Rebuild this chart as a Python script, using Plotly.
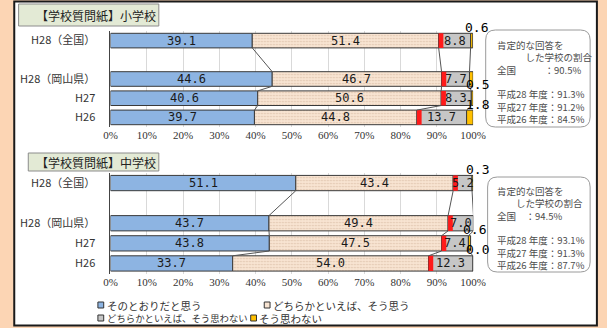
import numpy as np
import plotly.graph_objects as go

W, H = 607, 328

# ---------------- data ----------------
row_labels = ["H28（全国）", "", "H28（岡山県）", "H27", "H26"]
series_names = ["そのとおりだと思う", "どちらかといえば、そう思う",
                "どちらかといえば、そう思わない", "そう思わない"]

# 小学校 (None = spacer row)
elem_agree      = [39.1, None, 44.6, 40.6, 39.7]
elem_some_agree = [51.4, None, 46.7, 50.6, 44.8]
elem_some_dis   = [8.8,  None, 7.7,  8.3,  13.7]
elem_disagree   = [0.6,  None, 1.0,  0.5,  1.8]

# 中学校
mid_agree      = [51.1, None, 43.7, 43.8, 33.7]
mid_some_agree = [43.4, None, 49.4, 47.5, 54.0]
mid_some_dis   = [5.2,  None, 7.0,  7.4,  12.3]
mid_disagree   = [0.3,  None, 0.0,  0.6,  0.0]

x_ticks = [0, 10, 20, 30, 40, 50, 60, 70, 80, 90, 100]

titles = ["【学校質問紙】小学校", "【学校質問紙】中学校"]
box_years = ["平成28 年度", "平成27 年度", "平成26 年度"]

# ---------------- style ----------------
C_BLUE = "#8db4e2"
C_BEIGE = "#f8e4d2"
C_GRAY = "#c6c6c6"
C_YEL = "#ffc000"
C_RED = "#ff1a1a"
C_EDGE = "#3a3a3a"
RED_W = 1.3
BW = 0.76
JP = "Noto Sans CJK JP"
MONO = "DejaVu Sans Mono"
SERIF = "Liberation Serif, Times New Roman, serif"
SP = "\u3000"


def fx(x):
    return x / W


def fy(y):
    return 1 - y / H


fig = go.Figure()
shapes = []
annos = []

charts = [
    dict(vals=[elem_agree, elem_some_agree, elem_some_dis, elem_disagree],
         xa="x", ya="y"),
    dict(vals=[mid_agree, mid_some_agree, mid_some_dis, mid_disagree],
         xa="x2", ya="y2"),
]

for ci, ch in enumerate(charts):
    idx = [i for i, v in enumerate(ch["vals"][0]) if v is not None]
    mat = np.array([[ch["vals"][s][i] for s in range(4)] for i in idx], dtype=float)
    cum = np.cumsum(mat, axis=1)
    base = np.hstack([np.zeros((len(idx), 1)), cum[:, :-1]])
    colors = [C_BLUE, C_BEIGE, C_GRAY, C_YEL]
    for s in range(4):
        mk = dict(color=colors[s], line=dict(color=C_EDGE, width=1))
        if s == 1:
            mk["pattern"] = dict(shape=".", fgcolor="#c4a488", bgcolor=C_BEIGE,
                                 size=3, solidity=0.25)
        fig.add_trace(go.Bar(
            x=mat[:, s], y=idx, base=base[:, s], orientation="h", width=BW,
            marker=mk, name=series_names[s], showlegend=False,
            xaxis=ch["xa"], yaxis=ch["ya"], hoverinfo="skip"))
    # red marker at boundary of positive answers
    fig.add_trace(go.Bar(
        x=[RED_W] * len(idx), y=idx, base=cum[:, 1], orientation="h", width=BW,
        marker=dict(color=C_RED, line=dict(width=0)), showlegend=False,
        xaxis=ch["xa"], yaxis=ch["ya"], hoverinfo="skip"))
    # series lines
    for r in range(len(idx) - 1):
        for k in range(3):
            shapes.append(dict(type="line", xref=ch["xa"], yref=ch["ya"],
                               x0=cum[r, k], y0=idx[r] + BW / 2,
                               x1=cum[r + 1, k], y1=idx[r + 1] - BW / 2,
                               line=dict(color="#555555", width=1), layer="above"))
    # labels
    for r, i in enumerate(idx):
        for s in range(3):
            annos.append(dict(x=base[r, s] + mat[r, s] / 2, y=i, xref=ch["xa"], yref=ch["ya"],
                              text=f"{mat[r, s]:.1f}", showarrow=False,
                              xanchor="center", yanchor="middle",
                              font=dict(family=MONO, size=12, color="#1a1a1a")))
        annos.append(dict(x=cum[r, 3], y=i - BW / 2, xref=ch["xa"], yref=ch["ya"],
                          text=f"{mat[r, 3]:.1f}", showarrow=False, xshift=4, yshift=6,
                          xanchor="center", yanchor="middle",
                          font=dict(family=MONO, size=13, color="#000000")))

    # title box
    tx0 = 12 if ci == 0 else 22
    ty0, ty1 = (4, 26) if ci == 0 else (153, 171)
    shapes.append(dict(type="rect", xref="paper", yref="paper",
                       x0=fx(tx0), x1=fx(157), y0=fy(ty1), y1=fy(ty0),
                       fillcolor="#e3ead5", line=dict(color="#8c8c8c", width=1)))
    annos.append(dict(x=fx(28), y=fy((ty0 + ty1) / 2), xref="paper", yref="paper",
                      text=titles[ci], showarrow=False, xanchor="left", yanchor="middle",
                      font=dict(family=JP, size=12, color="#222222")))

    # right info box
    pos = cum[:, 1]
    bx0, by0, bx1, by1 = (495, 30, 603, 127) if ci == 0 else (497, 177, 603, 272)
    rr = 10
    path = (f"M {fx(bx0 + rr)},{fy(by0)} L {fx(bx1 - rr)},{fy(by0)} "
            f"Q {fx(bx1)},{fy(by0)} {fx(bx1)},{fy(by0 + rr)} "
            f"L {fx(bx1)},{fy(by1 - rr)} Q {fx(bx1)},{fy(by1)} {fx(bx1 - rr)},{fy(by1)} "
            f"L {fx(bx0 + rr)},{fy(by1)} Q {fx(bx0)},{fy(by1)} {fx(bx0)},{fy(by1 - rr)} "
            f"L {fx(bx0)},{fy(by0 + rr)} Q {fx(bx0)},{fy(by0)} {fx(bx0 + rr)},{fy(by0)} Z")
    shapes.append(dict(type="path", xref="paper", yref="paper", path=path,
                       fillcolor="white", line=dict(color="#9a9a9a", width=1)))
    ind = SP * 3 if ci == 0 else SP * 2
    gap = SP * 3 if ci == 0 else SP * 1
    lines = ["肯定的な回答を", ind + "した学校の割合", "全国" + gap + f"：{pos[0]:.1f}%", " "]
    lines += [f"{box_years[k]}：{pos[k + 1]:.1f}%" for k in range(3)]
    ytop = 36 if ci == 0 else 182
    annos.append(dict(x=fx(505), y=fy(ytop), xref="paper", yref="paper",
                      text="<br>".join(lines), showarrow=False, align="left",
                      xanchor="left", yanchor="top",
                      font=dict(family=JP, size=9.5, color="#4d4d4d")))

# legend (manual)
leg = [(94, 305, 0, 10.5), (266, 305, 1, 10.5), (94, 318, 2, 9.4), (252, 318, 3, 10.5)]
leg_colors = [C_BLUE, C_BEIGE, C_GRAY, C_YEL]
for (lx, ly, s, fs) in leg:
    shapes.append(dict(type="rect", xref="paper", yref="paper",
                       x0=fx(lx), x1=fx(lx + 6), y0=fy(ly + 3), y1=fy(ly - 3),
                       fillcolor=leg_colors[s], line=dict(color="#333333", width=1)))
    annos.append(dict(x=fx(lx + 7), y=fy(ly), xref="paper", yref="paper",
                      text=series_names[s], showarrow=False, xanchor="left", yanchor="middle",
                      font=dict(family=JP, size=fs, color="#333333")))

# frame: peach background, white panel with dark border
shapes.insert(0, dict(type="rect", xref="paper", yref="paper", x0=fx(7.5), x1=fx(610),
                      y0=fy(325.5), y1=fy(1.5), fillcolor="white",
                      line=dict(color="#1a1a1a", width=2), layer="below"))

xcommon = dict(range=[0, 100], tickvals=x_ticks, ticktext=[f"{t}%" for t in x_ticks],
               tickfont=dict(family=SERIF, size=11, color="#333333"),
               showgrid=True, gridcolor="#d9d9d9", gridwidth=1, zeroline=False,
               showline=False, ticks="", fixedrange=True)
ycommon = dict(range=[4.5, -0.5], tickvals=[i for i, t in enumerate(row_labels) if t],
               ticktext=[t for t in row_labels if t],
               tickfont=dict(family=JP, size=11, color="#333333"),
               showline=True, linecolor="#444444", linewidth=1, showgrid=False,
               zeroline=False, ticks="outside", ticklen=12, tickcolor="rgba(0,0,0,0)")

fig.update_layout(
    width=W, height=H, margin=dict(l=0, r=0, t=0, b=0),
    paper_bgcolor="#fcd5b4", plot_bgcolor="rgba(0,0,0,0)",
    barmode="overlay", showlegend=False,
    xaxis=dict(domain=[fx(107), fx(482)], anchor="y", **xcommon),
    yaxis=dict(domain=[fy(127), fy(31)], anchor="x", **ycommon),
    xaxis2=dict(domain=[fx(107), fx(482)], anchor="y2", **xcommon),
    yaxis2=dict(domain=[fy(273.5), fy(173)], anchor="x2", **ycommon),
    shapes=shapes, annotations=annos,
)

fig.write_html("out.html")
